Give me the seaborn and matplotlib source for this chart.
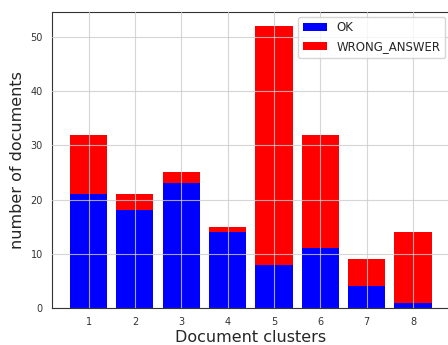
import numpy as np
import pandas as pd
import matplotlib
matplotlib.use("Agg")
import matplotlib.pyplot as plt
import seaborn as sns

# Values
clusters = [1, 2, 3, 4, 5, 6, 7, 8]
ok_counts = [21, 18, 23, 14, 8, 11, 4, 1]
wrong_counts = [11, 3, 2, 1, 44, 21, 5, 13]

df = pd.DataFrame({"cluster": clusters, "OK": ok_counts, "WRONG_ANSWER": wrong_counts})

sns.set_style("white")
plt.rcParams["font.family"] = ["DejaVu Sans"]

fig = plt.figure(figsize=(4.48, 3.45), dpi=100)
ax = fig.add_axes([52 / 448, 37 / 345, 0.8875, 0.858])

ax.bar(df["cluster"], df["OK"], width=0.8, color="blue", label="OK", linewidth=0)
ax.bar(df["cluster"], df["WRONG_ANSWER"], bottom=df["OK"], width=0.8,
       color="red", label="WRONG_ANSWER", linewidth=0)

# grid drawn on top of the bars, as in the reference
ax.set_axisbelow(False)
ax.grid(True, color="#cccccc", linewidth=0.8, alpha=0.8)
ax.set_xticks(clusters)
ax.set_yticks([0, 10, 20, 30, 40, 50])
ax.tick_params(axis="both", labelsize=7, colors="#333333", length=3)
for s in ax.spines.values():
    s.set_color("#333333")
    s.set_linewidth(0.8)

ax.set_xlabel("Document clusters", fontsize=11.5, labelpad=2)
ax.set_ylabel("number of documents", fontsize=11.5, labelpad=4)
ax.legend(loc="upper right", fontsize=8.5, frameon=True, borderaxespad=0.4)

fig.savefig("out.png", dpi=100)
